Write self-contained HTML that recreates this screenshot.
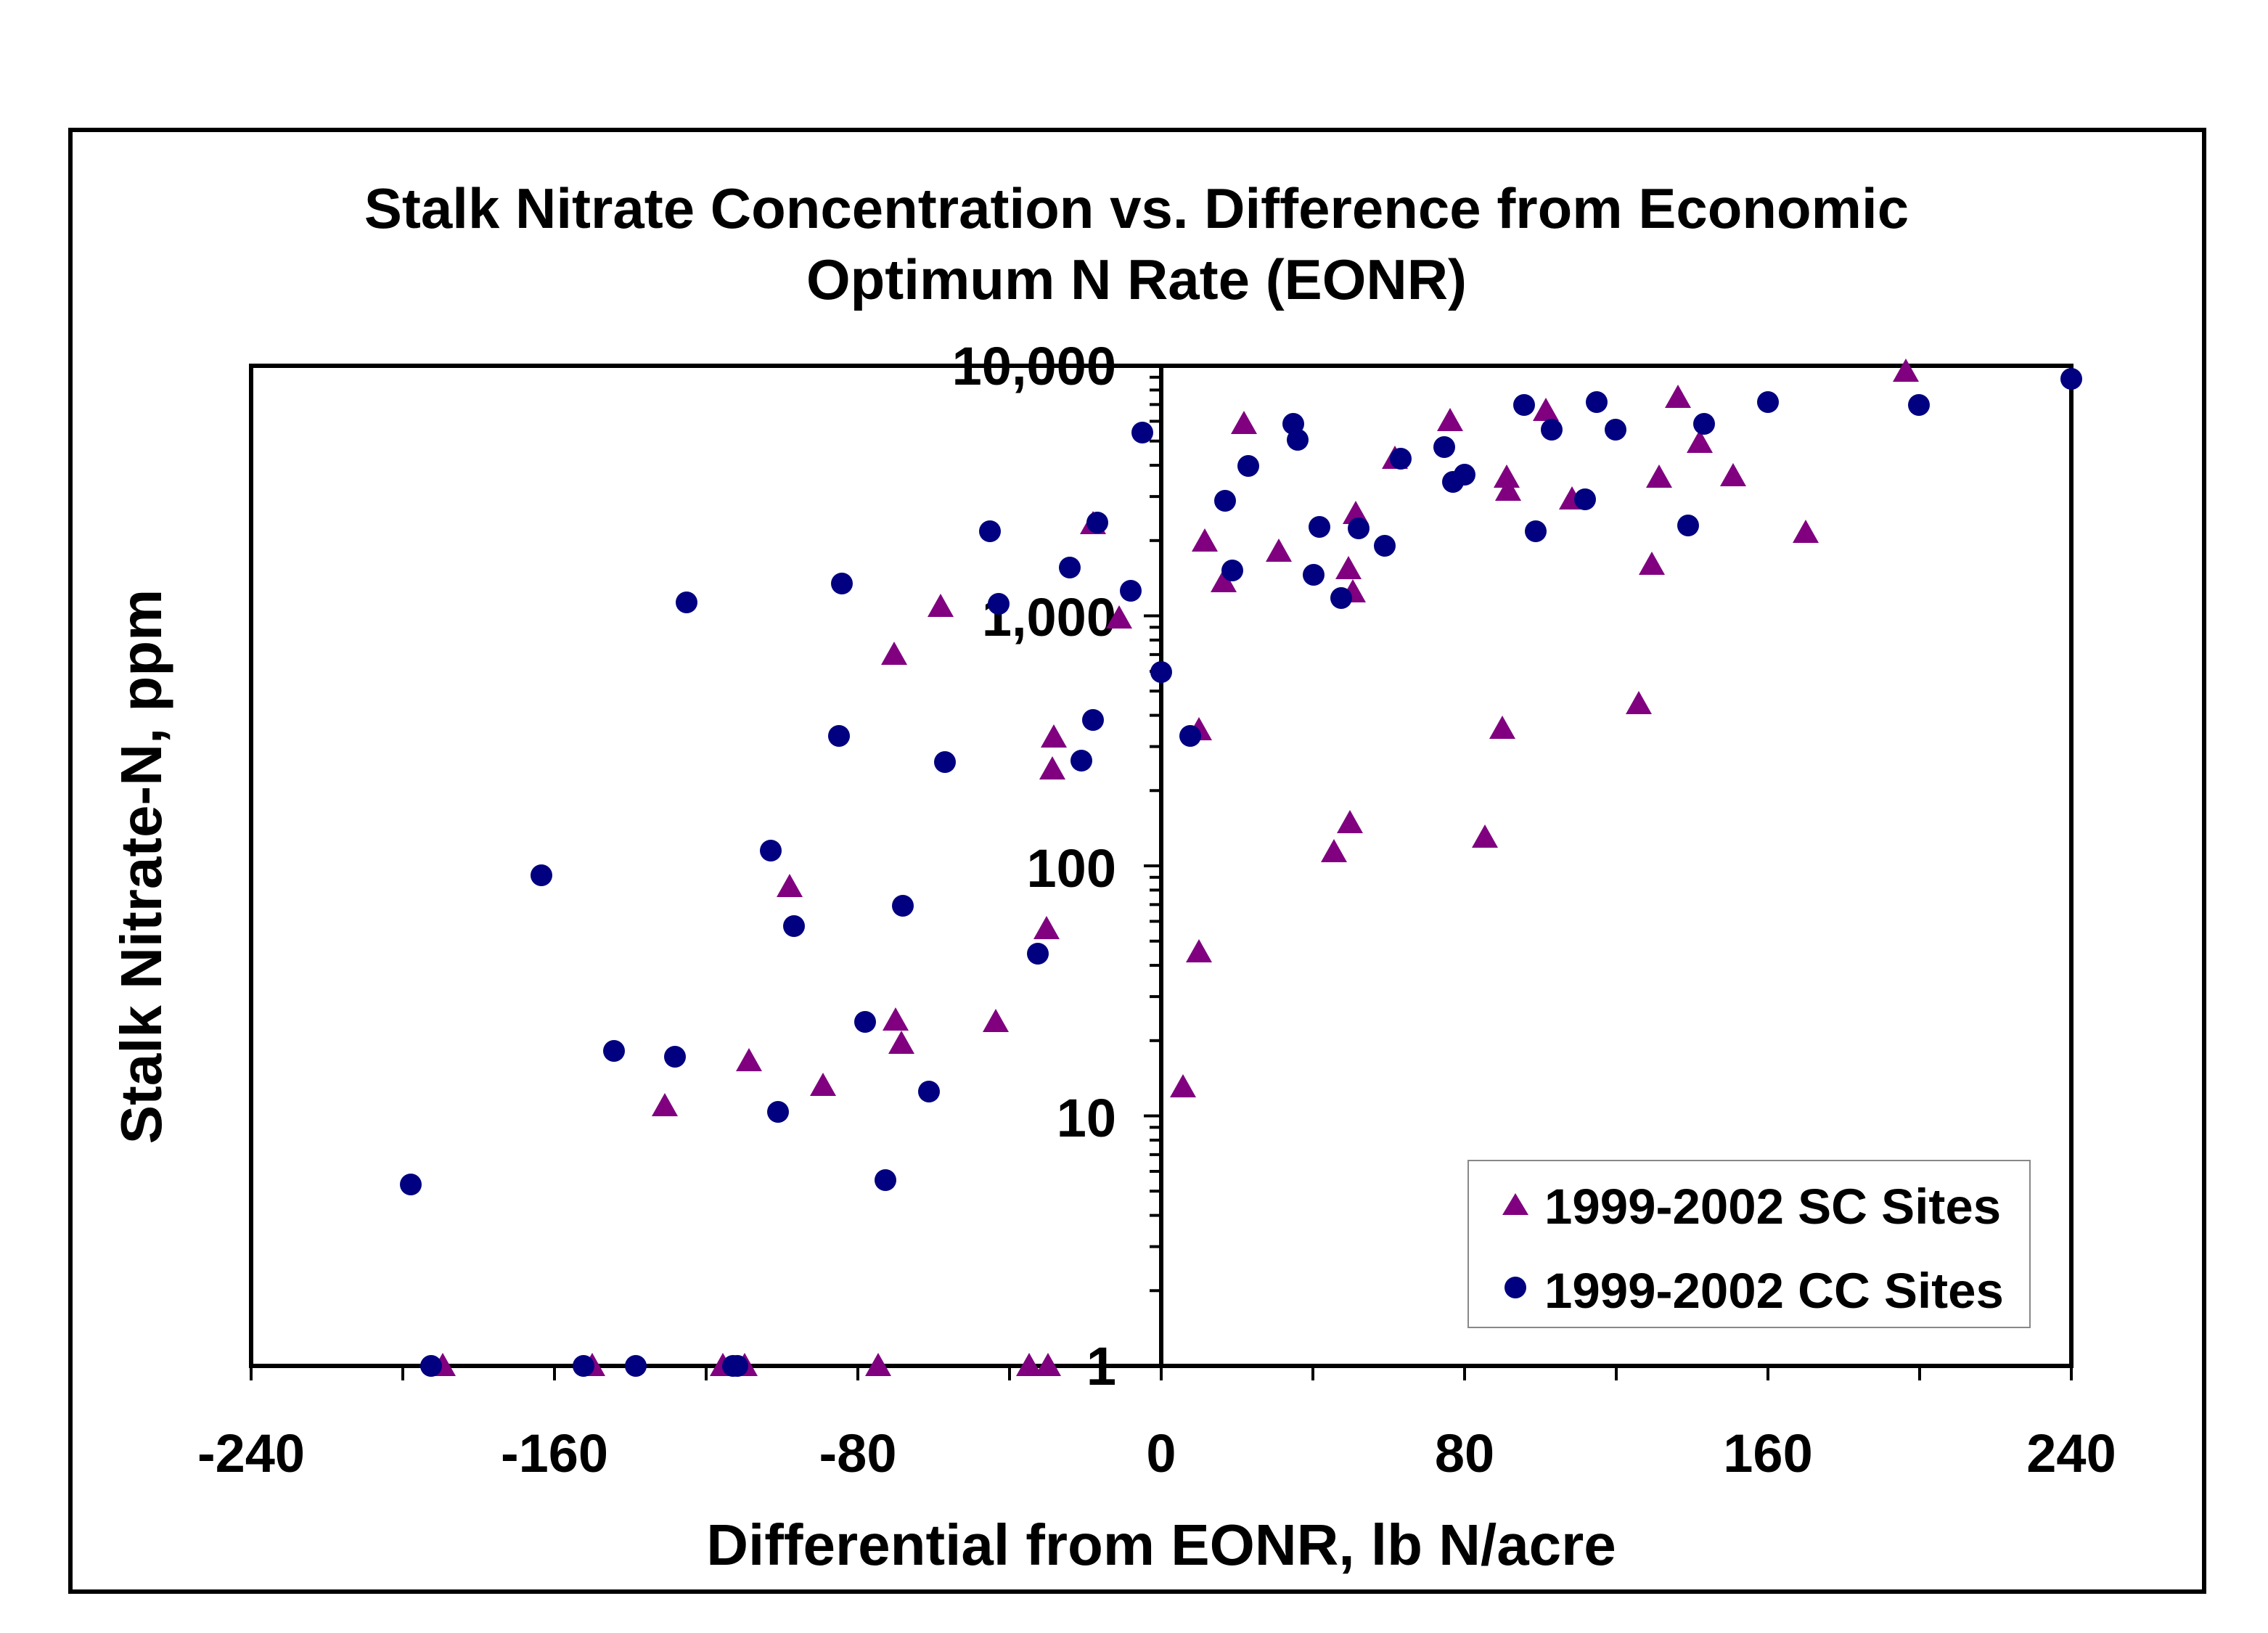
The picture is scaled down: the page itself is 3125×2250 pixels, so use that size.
<!DOCTYPE html>
<html><head><meta charset="utf-8"><style>html,body{margin:0;padding:0;background:#fff}svg{display:block}</style></head>
<body>
<svg width="3125" height="2250" viewBox="0 0 1562.5 1125" xmlns="http://www.w3.org/2000/svg" font-family="Liberation Sans, sans-serif" font-weight="bold">
<rect x="0" y="0" width="1562.5" height="1125" fill="#fff"/>
<rect x="48.5" y="89.5" width="1470" height="1007" fill="none" stroke="#000" stroke-width="3"/>
<text x="783" y="157" font-size="39" text-anchor="middle">Stalk Nitrate Concentration vs. Difference from Economic</text>
<text x="783" y="206" font-size="39" text-anchor="middle">Optimum N Rate (EONR)</text>
<rect x="173" y="252" width="1254" height="689" fill="none" stroke="#000" stroke-width="3"/>
<line x1="800" y1="252" x2="800" y2="941" stroke="#000" stroke-width="3"/>
<g stroke="#000" stroke-width="2" id="ticks"></g>
<g font-size="37" text-anchor="middle">
<text x="173" y="1014">-240</text><text x="382" y="1014">-160</text><text x="591" y="1014">-80</text><text x="800" y="1014">0</text><text x="1009" y="1014">80</text><text x="1218" y="1014">160</text><text x="1427" y="1014">240</text>
</g>
<g font-size="37" text-anchor="end">
<text x="769" y="265">10,000</text><text x="769" y="438">1,000</text><text x="769" y="611">100</text><text x="769" y="783">10</text><text x="769" y="954">1</text>
</g>
<text x="800" y="1078" font-size="40" text-anchor="middle">Differential from EONR, lb N/acre</text>
<text transform="translate(111,597) rotate(-90)" font-size="40" text-anchor="middle">Stalk Nitrate-N, ppm</text>
<g id="tri" fill="#800080"></g>
<g id="cir" fill="#000080"></g>
<rect x="1011.5" y="799.5" width="387" height="115" fill="#fff" stroke="#888" stroke-width="1"/>
<polygon points="1044,822 1053,837 1035,837" fill="#800080"/>
<circle cx="1044" cy="887" r="7.5" fill="#000080"/>
<text x="1064" y="843" font-size="34.5">1999-2002 SC Sites</text>
<text x="1064" y="901" font-size="34.5">1999-2002 CC Sites</text>
<script>
var ns="http://www.w3.org/2000/svg";
function el(t,a,p){var e=document.createElementNS(ns,t);for(var k in a)e.setAttribute(k,a[k]);p.appendChild(e);}
var tk=document.getElementById("ticks");
for(var v=-240;v<=240;v+=40){var x=800+v*2.6125;el("line",{x1:x,y1:941,x2:x,y2:951},tk);}
for(var d=0;d<4;d++){for(var m=1;m<=10;m++){var y=941-172.25*(d+Math.log10(m));el("line",{x1:m==1||m==10?788:792,y1:y,x2:800,y2:y},tk);}}
var C=[[283,816],[297,941],[373,603],[402,941],[423,724],[438,941],[465,728],[473,415],[505,941],[508,941],[536,766],[531,586],[547,638],[578,507],[580,402],[596,704],[610,813],[622,624],[640,752],[651,525],[682,366],[688,416],[715,657],[737,391],[745,524],[753,496],[756,360],[779,407],[787,298],[800,463],[820,507],[844,345],[849,393],[860,321],[891,292],[894,303],[905,396],[909,363],[924,412],[936,364],[954,376],[965,316],[995,308],[1001,332],[1009,327],[1050,279],[1058,366],[1069,296],[1092,344],[1100,277],[1113,296],[1163,362],[1174,292],[1218,277],[1322,279],[1427,261]];
var T=[[305,941],[408,941],[458,762],[498,941],[513,941],[516,731],[544,611],[567,748],[605,941],[616,451],[617,703],[621,719],[648,418],[686,704],[709,941],[721,640],[722,941],[725,530],[726,508],[753,361],[771,426],[815,749],[826,503],[826,656],[830,373],[843,401],[857,292],[881,380],[919,587],[929,392],[930,567],[932,408],[934,354],[961,316],[999,290],[1023,577],[1035,502],[1038,329],[1039,338],[1065,283],[1083,344],[1129,485],[1138,389],[1143,329],[1156,274],[1171,305],[1194,328],[1244,367],[1313,256]];
var tg=document.getElementById("tri"),cg=document.getElementById("cir");
T.forEach(function(p){var x=p[0],y=p[1];el("polygon",{points:x+","+(y-9)+" "+(x+9)+","+(y+7)+" "+(x-9)+","+(y+7)},tg);});
C.forEach(function(p){el("circle",{cx:p[0],cy:p[1],r:7.5},cg);});
</script>
</svg>
</body></html>
